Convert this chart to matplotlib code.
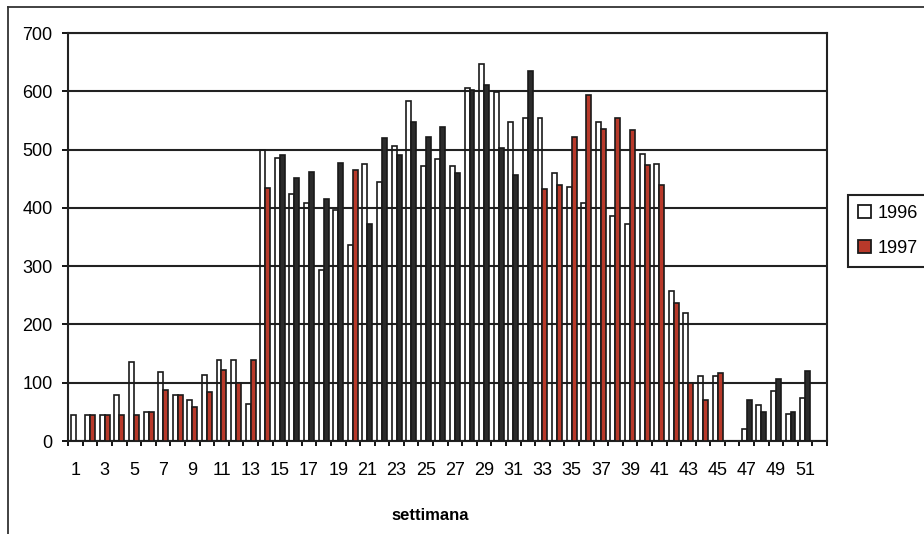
import matplotlib
matplotlib.use("Agg")
import matplotlib.pyplot as plt
from matplotlib.patches import Patch
from matplotlib.lines import Line2D
import numpy as np

plt.rcParams["font.family"] = ["Liberation Sans", "DejaVu Sans"]

# weekly values
weeks = list(range(1, 53))
y1996 = [45, 45, 45, 79, 135, 49, 118, 79, 71, 113,
         139, 139, 63, 499, 485, 424, 408, 293, 397, 336,
         476, 444, 506, 584, 472, 484, 472, 605, 647, 599,
         548, 555, 555, 460, 435, 409, 547, 386, 373, 493,
         476, 258, 219, 112, 112, 0, 20, 62, 86, 46,
         74, 0]
y1997 = [0, 45, 45, 45, 45, 49, 88, 79, 58, 84,
         122, 100, 139, 434, 490, 452, 461, 415, 477, 465,
         373, 519, 490, 548, 522, 539, 460, 602, 611, 502,
         456, 634, 433, 439, 521, 593, 535, 555, 533, 473,
         439, 236, 99, 70, 116, 0, 70, 50, 107, 49,
         120, 0]
series = ["1996", "1997"]
xlabel = "settimana"

# in the scan some 1997 bars print red, the rest come out nearly black
red_weeks = set(range(2, 15)) | {20} | set(range(33, 46))
RED = "#b8392a"
DARK = "#2b2b2b"

fig = plt.figure(figsize=(9.24, 5.34), dpi=100)
ax = fig.add_axes([68.3 / 924, 1 - 441 / 534, (827 - 68.3) / 924, (441 - 33) / 534])

x = np.array(weeks)
w = 0.34
col97 = [RED if wk in red_weeks else DARK for wk in weeks]
# white bars are see-through in the scan: gridlines run across them
ax.bar(x - w / 2, y1996, width=w, facecolor="none", edgecolor="#1a1a1a", linewidth=1.2, zorder=3)
ax.bar(x + w / 2, y1997, width=w, color=col97, edgecolor="#1a1a1a", linewidth=1.2, zorder=3)

ax.set_xlim(0.5, 52.5)
ax.set_ylim(0, 700)
ax.set_yticks(range(0, 701, 100))
ax.yaxis.grid(True, color="#222222", linewidth=1.5, zorder=1)
ax.set_axisbelow(True)
ax.tick_params(axis="y", direction="out", length=4.3, width=1.3, pad=7, labelsize=13)

ax.set_xticks(weeks[::2])
ax.set_xticklabels([str(wk) for wk in weeks[::2]])
ax.set_xticks(np.arange(0.5, 53, 1), minor=True)
ax.tick_params(axis="x", which="major", length=0, pad=15, labelsize=13)
ax.tick_params(axis="x", which="minor", direction="out", length=3.6, width=1.3)

for s in ax.spines.values():
    s.set_linewidth(1.5)
    s.set_color("#222222")

handles = [Patch(facecolor="white", edgecolor="#1a1a1a", linewidth=1.3),
           Patch(facecolor=RED, edgecolor="#1a1a1a", linewidth=1.3)]
leg = fig.legend(handles, series, loc="upper left", bbox_to_anchor=(848 / 924, 1 - 195 / 534),
                 borderaxespad=0, fancybox=False, framealpha=1, edgecolor="#222222",
                 fontsize=13, handlelength=0.75, handleheight=0.75, handletextpad=0.35,
                 labelspacing=1.0, borderpad=0.55)
leg.get_frame().set_linewidth(1.5)

fig.text(430 / 924, 1 - 515 / 534, xlabel, ha="center", va="center", fontsize=12, fontweight="bold")

# outer chart frame (cropped at right and bottom in the scan)
fig.add_artist(Line2D([8 / 924, 1], [1 - 7 / 534, 1 - 7 / 534], transform=fig.transFigure, color="#333333", linewidth=1.3))
fig.add_artist(Line2D([8 / 924, 8 / 924], [0, 1 - 7 / 534], transform=fig.transFigure, color="#333333", linewidth=1.3))

fig.savefig("out.png", dpi=100)
